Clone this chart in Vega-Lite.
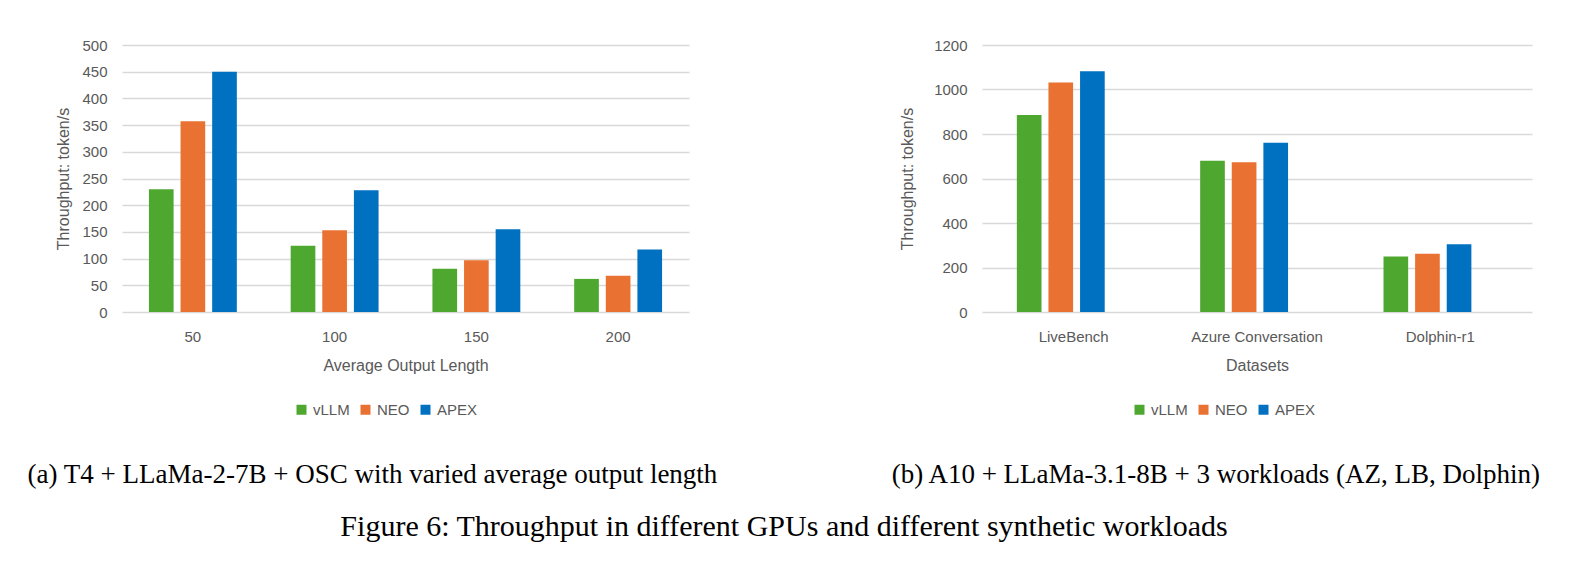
{
  "$schema": "https://vega.github.io/schema/vega-lite/v6.json",
  "background": "white",
  "padding": {"left": 27, "top": 38, "right": 20, "bottom": 20},
  "title": {
    "text": "Figure 6: Throughput in different GPUs and different synthetic workloads",
    "orient": "bottom",
    "anchor": "middle",
    "font": "Liberation Serif",
    "fontSize": 30,
    "fontWeight": "normal",
    "color": "black",
    "offset": 24
  },
  "datasets": {
    "t4": [
      {"len": "50", "system": "vLLM", "throughput": 230},
      {"len": "50", "system": "NEO", "throughput": 357},
      {"len": "50", "system": "APEX", "throughput": 450},
      {"len": "100", "system": "vLLM", "throughput": 124},
      {"len": "100", "system": "NEO", "throughput": 153},
      {"len": "100", "system": "APEX", "throughput": 228},
      {"len": "150", "system": "vLLM", "throughput": 81},
      {"len": "150", "system": "NEO", "throughput": 97},
      {"len": "150", "system": "APEX", "throughput": 155},
      {"len": "200", "system": "vLLM", "throughput": 62},
      {"len": "200", "system": "NEO", "throughput": 68},
      {"len": "200", "system": "APEX", "throughput": 117}
    ],
    "a10": [
      {"dataset": "LiveBench", "system": "vLLM", "throughput": 885},
      {"dataset": "LiveBench", "system": "NEO", "throughput": 1032},
      {"dataset": "LiveBench", "system": "APEX", "throughput": 1082},
      {"dataset": "Azure Conversation", "system": "vLLM", "throughput": 680},
      {"dataset": "Azure Conversation", "system": "NEO", "throughput": 673},
      {"dataset": "Azure Conversation", "system": "APEX", "throughput": 761},
      {"dataset": "Dolphin-r1", "system": "vLLM", "throughput": 250},
      {"dataset": "Dolphin-r1", "system": "NEO", "throughput": 262},
      {"dataset": "Dolphin-r1", "system": "APEX", "throughput": 305}
    ]
  },
  "spacing": 172,
  "resolve": {"scale": {"color": "independent"}, "legend": {"color": "independent"}},
  "hconcat": [
    {
      "title": {
        "text": "(a) T4 + LLaMa-2-7B + OSC with varied average output length",
        "orient": "bottom",
        "anchor": "middle",
        "frame": "bounds",
        "font": "Liberation Serif",
        "fontSize": 27,
        "fontWeight": "normal",
        "color": "black",
        "offset": 44
      },
      "width": 567,
      "height": 267,
      "data": {"name": "t4"},
      "mark": {"type": "bar"},
      "encoding": {
        "x": {
          "field": "len", "type": "nominal", "sort": ["50", "100", "150", "200"],
          "scale": {"paddingInner": 0.38, "paddingOuter": 0.19},
          "axis": {"title": "Average Output Length", "labelAngle": 0}
        },
        "xOffset": {
          "field": "system", "sort": ["vLLM", "NEO", "APEX"],
          "scale": {"paddingInner": 0.22}
        },
        "y": {
          "field": "throughput", "type": "quantitative",
          "scale": {"domain": [0, 500], "nice": false},
          "axis": {"title": "Throughput: token/s", "format": "d", "values": [0, 50, 100, 150, 200, 250, 300, 350, 400, 450, 500]}
        },
        "color": {
          "field": "system", "type": "nominal", "sort": ["vLLM", "NEO", "APEX"],
          "scale": {"domain": ["vLLM", "NEO", "APEX"], "range": ["#4EA72E", "#E97132", "#0070C0"]},
          "legend": {"title": null, "orient": "none", "direction": "horizontal", "legendX": 172, "legendY": 357}
        }
      }
    },
    {
      "title": {
        "text": "(b) A10 + LLaMa-3.1-8B + 3 workloads (AZ, LB, Dolphin)",
        "orient": "bottom",
        "anchor": "middle",
        "frame": "bounds",
        "font": "Liberation Serif",
        "fontSize": 27,
        "fontWeight": "normal",
        "color": "black",
        "offset": 44
      },
      "width": 550,
      "height": 267,
      "data": {"name": "a10"},
      "mark": {"type": "bar"},
      "encoding": {
        "x": {
          "field": "dataset", "type": "nominal", "sort": ["LiveBench", "Azure Conversation", "Dolphin-r1"],
          "scale": {"paddingInner": 0.38, "paddingOuter": 0.19},
          "axis": {"title": "Datasets", "labelAngle": 0}
        },
        "xOffset": {
          "field": "system", "sort": ["vLLM", "NEO", "APEX"],
          "scale": {"paddingInner": 0.22}
        },
        "y": {
          "field": "throughput", "type": "quantitative",
          "scale": {"domain": [0, 1200], "nice": false},
          "axis": {"title": "Throughput: token/s", "format": "d", "titlePadding": 18, "values": [0, 200, 400, 600, 800, 1000, 1200]}
        },
        "color": {
          "field": "system", "type": "nominal", "sort": ["vLLM", "NEO", "APEX"],
          "scale": {"domain": ["vLLM", "NEO", "APEX"], "range": ["#4EA72E", "#E97132", "#0070C0"]},
          "legend": {"title": null, "orient": "none", "direction": "horizontal", "legendX": 150, "legendY": 357}
        }
      }
    }
  ],
  "config": {
    "view": {"stroke": null},
    "axis": {
      "grid": false,
      "domain": false,
      "ticks": false,
      "labelColor": "#595959",
      "titleColor": "#595959",
      "titleFontWeight": "normal"
    },
    "axisX": {
      "labelFont": "Liberation Sans",
      "labelFontSize": 15,
      "labelPadding": 17,
      "titleFont": "Liberation Sans",
      "titleFontSize": 16,
      "titlePadding": 13
    },
    "axisY": {
      "grid": true,
      "gridColor": "#D9D9D9",
      "gridWidth": 1.5,
      "labelFont": "Liberation Sans",
      "labelFontSize": 15,
      "labelPadding": 15,
      "titleFont": "Liberation Sans",
      "titleFontSize": 16,
      "titlePadding": 10
    },
    "legend": {
      "labelFont": "Liberation Sans",
      "labelFontSize": 15,
      "labelColor": "#595959",
      "symbolType": "square",
      "symbolSize": 100,
      "symbolStrokeWidth": 0,
      "columnPadding": 8,
      "labelOffset": 4
    }
  }
}
